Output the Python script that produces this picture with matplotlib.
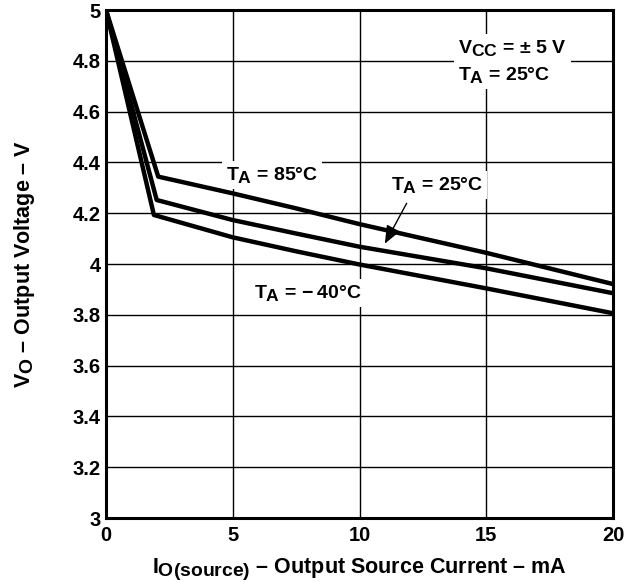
import matplotlib
matplotlib.use("Agg")
import matplotlib.pyplot as plt
import matplotlib._mathtext as mathtext_internal
from matplotlib.ticker import FormatStrFormatter

plt.rcParams['font.family'] = ['Liberation Sans', 'DejaVu Sans']
plt.rcParams['font.weight'] = 'bold'
plt.rcParams['mathtext.fontset'] = 'custom'
plt.rcParams['mathtext.rm'] = 'Liberation Sans:bold'
plt.rcParams['mathtext.it'] = 'Liberation Sans:bold'
plt.rcParams['mathtext.bf'] = 'Liberation Sans:bold'
# datasheet style subscripts are almost full size
mathtext_internal.SHRINK_FACTOR = 0.9

# output source current (mA) vs output voltage (V)
i_85 = [0, 2.06, 5, 7.5, 10, 15, 20]
v_85 = [5.0, 4.344, 4.278, 4.219, 4.157, 4.044, 3.921]
i_25 = [0, 2.0, 5, 7.5, 10, 15, 20]
v_25 = [5.0, 4.252, 4.173, 4.12, 4.068, 3.983, 3.885]
i_m40 = [0, 1.89, 5, 7.5, 10, 15, 20]
v_m40 = [5.0, 4.193, 4.105, 4.05, 3.998, 3.904, 3.806]

xticks = [0, 5, 10, 15, 20]
yticks = [3, 3.2, 3.4, 3.6, 3.8, 4, 4.2, 4.4, 4.6, 4.8, 5]

fig = plt.figure(figsize=(6.32, 5.82), dpi=100)
ax = fig.add_axes([106/632, 1 - 518/582, 507/632, 508/582])

for x, y in [(i_85, v_85), (i_25, v_25), (i_m40, v_m40)]:
    ax.plot(x, y, color='black', lw=3.2, zorder=4)

ax.set_xlim(0, 20)
ax.set_ylim(3, 5)
ax.set_xticks(xticks)
ax.set_yticks(yticks)
ax.yaxis.set_major_formatter(FormatStrFormatter('%g'))
ax.tick_params(length=0, labelsize=14.5)
ax.tick_params(axis='x', pad=6)
ax.tick_params(axis='y', pad=4)
for lab in ax.get_xticklabels() + ax.get_yticklabels():
    lab.set_fontweight('bold')
ax.grid(True, color='black', lw=1.0, zorder=1)
ax.set_axisbelow(True)
for s in ax.spines.values():
    s.set_linewidth(2.2)

box = dict(facecolor='white', edgecolor='none', pad=3)
fs = 14
ax.text(4.72, 4.331, r'$T_A$ = 85°C', fontsize=fs, va='baseline', ha='left', bbox=box, zorder=3)
ax.text(11.23, 4.291, r'$T_A$ = 25°C', fontsize=fs, va='baseline', ha='left', bbox=box, zorder=3)
ax.text(5.84, 3.865, '$T_A$ = \u2212\u200940°C', fontsize=fs, va='baseline', ha='left',
        bbox=box, zorder=3)
ax.text(13.9, 4.829, r'$V_{CC}$ = ± 5 V', fontsize=fs, va='baseline', ha='left', bbox=box, zorder=3)
ax.text(13.9, 4.724, r'$T_A$ = 25°C', fontsize=fs, va='baseline', ha='left', bbox=box, zorder=3)

ax.annotate('', xy=(11.0, 4.08), xytext=(11.86, 4.239),
            arrowprops=dict(arrowstyle='-|>,head_length=1.1,head_width=0.45',
                            color='black', lw=1.0, shrinkA=0, shrinkB=0), zorder=5)

ax.set_xlabel(r'$I_{O(source)}$ – Output Source Current – mA', fontsize=15.5,
              fontweight='bold', va='top')
ax.xaxis.set_label_coords(0.5, -0.076)
ax.set_ylabel(r'$V_O$ – Output Voltage – V', fontsize=15.5, fontweight='bold')
ax.yaxis.set_label_coords(-0.136, 0.5)

fig.savefig('out.png', dpi=100)
